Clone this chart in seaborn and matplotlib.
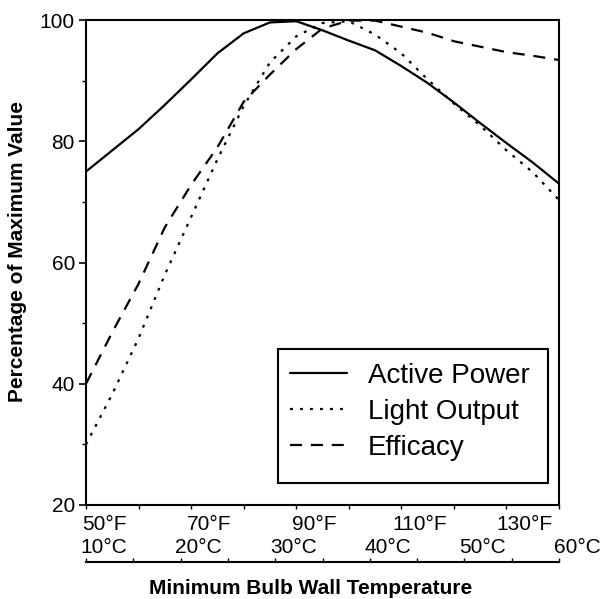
import numpy as np
import pandas as pd
import matplotlib
matplotlib.use("Agg")
import matplotlib.pyplot as plt
from matplotlib.patches import Rectangle
from matplotlib.transforms import ScaledTranslation
import seaborn as sns

# Minimum bulb wall temperature (°F) and relative performance (% of maximum)
temp_f = [50, 55, 60, 65, 70, 75, 80, 85, 90, 95, 100, 105, 110, 115, 120, 125, 130, 135, 140]
active_power = [75.0, 78.5, 82.0, 86.0, 90.2, 94.5, 97.8, 99.6, 99.8, 98.3, 96.6, 95.0,
                92.4, 89.6, 86.4, 83.0, 79.7, 76.5, 73.0]
light_output = [30.0, 38.3, 47.5, 58.0, 67.5, 77.0, 85.8, 93.0, 97.3, 99.5, 99.8, 97.6,
                94.5, 90.2, 86.2, 82.6, 78.5, 74.9, 70.3]
efficacy = [40.0, 48.5, 56.5, 65.8, 72.8, 79.0, 86.5, 91.0, 95.2, 98.6, 99.9, 99.9,
            98.9, 97.9, 96.5, 95.6, 94.7, 94.1, 93.4]

series_names = ["Active Power", "Light Output", "Efficacy"]

y_ticks = [20, 40, 60, 80, 100]
y_minor = [30, 50, 70, 90]
f_ticks = [50, 70, 90, 110, 130]
f_minor = [60, 80, 100, 120, 140]
f_labels = ["50°F", "70°F", "90°F", "110°F", "130°F"]
c_ticks = [10, 20, 30, 40, 50, 60]
c_minor = [15, 25, 35, 45, 55]
c_labels = ["10°C", "20°C", "30°C", "40°C", "50°C", "60°C"]

sns.set_style("white")
plt.rcParams["font.family"] = ["Liberation Sans", "DejaVu Sans"]
plt.rcParams.update({
    "text.color": "black",
    "axes.labelcolor": "black",
    "xtick.color": "black",
    "ytick.color": "black",
    "axes.edgecolor": "black",
})

df = pd.DataFrame({
    "temp": temp_f * 3,
    "value": active_power + light_output + efficacy,
    "series": [n for n in series_names for _ in temp_f],
})

W, H = 603, 599
fig = plt.figure(figsize=(W / 100, H / 100), dpi=100)
ax = fig.add_axes([86 / W, 1 - 505 / H, 473 / W, 485 / H])

sns.lineplot(
    data=df, x="temp", y="value", style="series", style_order=series_names,
    dashes={"Active Power": "", "Light Output": (1.3, 3.2), "Efficacy": (5.4, 4.0)},
    color="black", linewidth=1.6, ax=ax,
)

ax.set_xlim(50, 140)
ax.set_ylim(20, 100)
ax.set_xlabel("")
ax.set_ylabel("")
for s in ax.spines.values():
    s.set_visible(True)
    s.set_color("black")
    s.set_linewidth(1.5)

ax.set_yticks(y_ticks)
ax.set_yticks(y_minor, minor=True)
ax.set_xticks(f_ticks)
ax.set_xticklabels(f_labels)
ax.set_xticks(f_minor, minor=True)
ax.tick_params(axis="y", which="major", direction="out", length=5, width=1.2,
               labelsize=15, pad=3, left=True)
ax.tick_params(axis="y", which="minor", direction="out", length=3, width=1.0, left=True)
ax.tick_params(axis="x", which="both", direction="out", length=3, width=1.0,
               labelsize=15, pad=4, bottom=True)

shift = ScaledTranslation(0.18, 0, fig.dpi_scale_trans)
for lbl in ax.get_xticklabels():
    lbl.set_transform(lbl.get_transform() + shift)

# Legend entries inside a plain rectangular box
handles, labels = ax.get_legend_handles_labels()
ax.legend(
    handles, labels, loc="upper left",
    bbox_to_anchor=((290 - 86) / 473, (505 - 363) / 485),
    frameon=False, fontsize=20, handlelength=2.05, handletextpad=0.75,
    labelspacing=0.36, borderpad=0, borderaxespad=0,
)
ax.add_patch(Rectangle(((278 - 86) / 473, (505 - 483) / 485), 270 / 473, 134 / 485,
                       transform=ax.transAxes, facecolor="white", edgecolor="black",
                       linewidth=1.5, zorder=4))

# Celsius scale drawn as a separate axis line below
axc = fig.add_axes([86 / W, 1 - 562 / H, 473 / W, 1e-4])
axc.set_xlim(10, 60)
axc.set_ylim(0, 1)
axc.patch.set_visible(False)
for side in ["left", "right", "bottom"]:
    axc.spines[side].set_visible(False)
axc.spines["top"].set_color("black")
axc.spines["top"].set_linewidth(1.5)
axc.set_yticks([])
axc.xaxis.tick_top()
axc.set_xticks(c_ticks)
axc.set_xticklabels(c_labels)
axc.set_xticks(c_minor, minor=True)
axc.tick_params(axis="x", which="both", direction="out", length=3, width=1.0,
                top=True, bottom=False, labeltop=True, labelbottom=False,
                labelsize=15, pad=0.5)
for lbl in axc.get_xticklabels():
    lbl.set_transform(lbl.get_transform() + shift)

fig.text(18 / W, 1 - 252 / H, "Percentage of Maximum Value", rotation=90,
         ha="center", va="center", fontsize=15, fontweight="bold")
fig.text(311 / W, 1 - 588 / H, "Minimum Bulb Wall Temperature",
         ha="center", va="center", fontsize=15, fontweight="bold")

fig.savefig("out.png", dpi=100)
